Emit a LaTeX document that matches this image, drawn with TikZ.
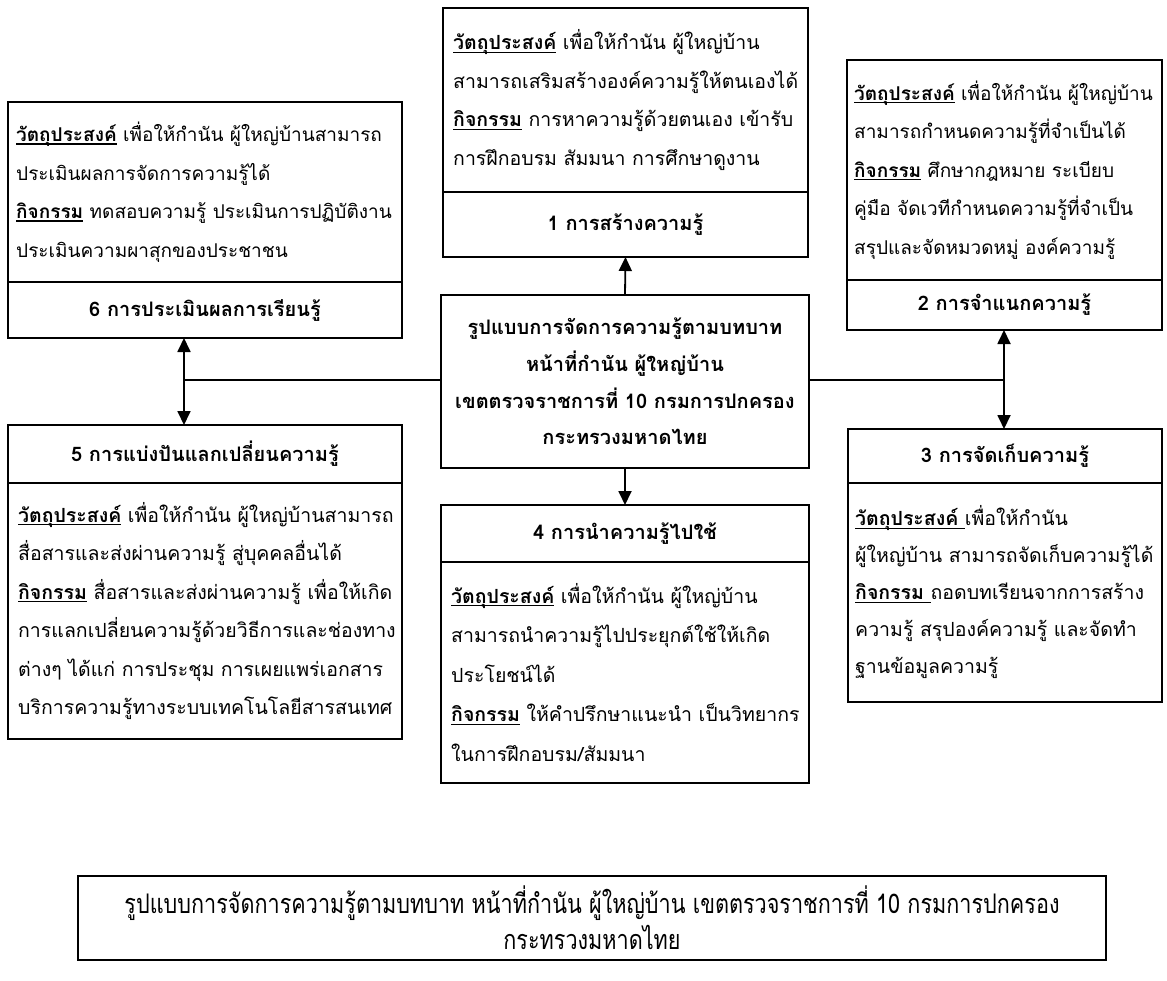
\documentclass[tikz,border=0pt]{standalone}
\usepackage{fontspec}
\usetikzlibrary{arrows.meta}
\setmainfont[Script=Thai]{Loma}
\newfontfamily\capfont[Script=Thai,FakeStretch=0.8]{Loma}
\newcommand{\tul}[1]{\setbox0\hbox{#1}\rlap{\rule[-3pt]{\wd0}{1.1pt}}\box0\relax}
\newcommand{\hd}[1]{\tul{\textbf{#1}}}
\tikzset{
  bx/.style={draw, line width=1.5pt, inner sep=0pt, outer sep=0pt, anchor=north west},
  bodytext/.style={inner sep=0pt, anchor=west, align=left, font=\fontsize{19.5}{38.5}\selectfont},
  titletext/.style={bx, font=\bfseries\fontsize{20}{22}\selectfont, align=center},
  centertext/.style={bx, font=\bfseries\fontsize{20}{36.7}\selectfont, align=center},
  link/.style={line width=1.5pt},
  arr/.style={line width=1.8pt, -{Triangle[length=14pt,width=13pt]}},
  darr/.style={line width=1.8pt, {Triangle[length=14pt,width=13pt]}-{Triangle[length=14pt,width=13pt]}},
}
\begin{document}
\begin{tikzpicture}[x=1pt,y=-1pt]
\useasboundingbox (0,0) rectangle (1167,980);
% Box 1
\node[bx, minimum width=365pt, minimum height=184pt] (b1) at (443,8) {};
\node[bodytext] (t1) at ([xshift=10pt]b1.west) {\hd{วัตถุประสงค์} เพื่อให้กำนัน ผู้ใหญ่บ้าน\\
สามารถเสริมสร้างองค์ความรู้ให้ตนเองได้\\
\hd{กิจกรรม} การหาความรู้ด้วยตนเอง เข้ารับ\\
การฝึกอบรม สัมมนา การศึกษาดูงาน};
\node[titletext, minimum width=365pt, minimum height=65pt] (h1) at (b1.south west) {1 การสร้างความรู้};
% Box 2
\node[bx, minimum width=315pt, minimum height=220pt] (b2) at (847,60) {};
\node[bodytext, font=\fontsize{19}{38.5}\selectfont] (t2) at ([xshift=7pt]b2.west) {\hd{วัตถุประสงค์} เพื่อให้กำนัน ผู้ใหญ่บ้าน\\
สามารถกำหนดความรู้ที่จำเป็นได้\\
\hd{กิจกรรม} ศึกษากฎหมาย ระเบียบ\\
คู่มือ จัดเวทีกำหนดความรู้ที่จำเป็น\\
สรุปและจัดหมวดหมู่ องค์ความรู้};
\node[titletext, minimum width=315pt, minimum height=50pt] (h2) at (b2.south west) {2 การจำแนกความรู้};
% Box 6
\node[bx, minimum width=394pt, minimum height=180pt] (b6) at (8,102) {};
\node[bodytext, font=\fontsize{19}{38.5}\selectfont] (t6) at ([xshift=8pt]b6.west) {\hd{วัตถุประสงค์} เพื่อให้กำนัน ผู้ใหญ่บ้านสามารถ\\
ประเมินผลการจัดการความรู้ได้\\
\hd{กิจกรรม} ทดสอบความรู้ ประเมินการปฏิบัติงาน\\
ประเมินความผาสุกของประชาชน};
\node[titletext, minimum width=394pt, minimum height=56pt] (h6) at (b6.south west) {6 การประเมินผลการเรียนรู้};
% Center
\node[centertext, minimum width=368pt, minimum height=173pt] (c) at (441,295) {รูปแบบการจัดการความรู้ตามบทบาท\\
หน้าที่กำนัน ผู้ใหญ่บ้าน\\
เขตตรวจราชการที่ 10 กรมการปกครอง\\
กระทรวงมหาดไทย};
% Box 5
\node[titletext, minimum width=394pt, minimum height=58pt] (h5) at (8,425) {5 การแบ่งปันแลกเปลี่ยนความรู้};
\node[bx, minimum width=394pt, minimum height=256pt] (b5) at (h5.south west) {};
\node[bodytext] (t5) at ([xshift=10pt]b5.west) {\hd{วัตถุประสงค์} เพื่อให้กำนัน ผู้ใหญ่บ้านสามารถ\\
สื่อสารและส่งผ่านความรู้ สู่บุคคลอื่นได้\\
\hd{กิจกรรม} สื่อสารและส่งผ่านความรู้ เพื่อให้เกิด\\
การแลกเปลี่ยนความรู้ด้วยวิธีการและช่องทาง\\
ต่างๆ ได้แก่ การประชุม การเผยแพร่เอกสาร\\
บริการความรู้ทางระบบเทคโนโลยีสารสนเทศ};
% Box 4
\node[titletext, minimum width=368pt, minimum height=57pt] (h4) at (441,505) {4 การนำความรู้ไปใช้};
\node[bx, minimum width=368pt, minimum height=221pt] (b4) at (h4.south west) {};
\node[bodytext, font=\fontsize{19.5}{39.5}\selectfont] (t4) at ([xshift=10pt]b4.west) {\hd{วัตถุประสงค์} เพื่อให้กำนัน ผู้ใหญ่บ้าน\\
สามารถนำความรู้ไปประยุกต์ใช้ให้เกิด\\
ประโยชน์ได้\\
\hd{กิจกรรม} ให้คำปรึกษาแนะนำ เป็นวิทยากร\\
ในการฝึกอบรม/สัมมนา};
% Box 3
\node[titletext, minimum width=314pt, minimum height=54pt] (h3) at (848,429) {3 การจัดเก็บความรู้};
\node[bx, minimum width=314pt, minimum height=219pt] (b3) at (h3.south west) {};
\node[bodytext, font=\fontsize{19.5}{37}\selectfont] (t3) at ([xshift=7pt]b3.west) {\hd{วัตถุประสงค์\ }เพื่อให้กำนัน\\
ผู้ใหญ่บ้าน สามารถจัดเก็บความรู้ได้\\
\hd{กิจกรรม\ }ถอดบทเรียนจากการสร้าง\\
ความรู้ สรุปองค์ความรู้ และจัดทำ\\
ฐานข้อมูลความรู้};
% Connectors
\coordinate (jl) at (184,380);
\coordinate (jr) at (1004,380);
\draw[arr] (c.north) -- (h1.south);
\draw[arr] (c.south) -- (h4.north);
\draw[link] (c.west |- jl) -- (jl);
\draw[link] (c.east |- jr) -- (jr);
\draw[darr] (jl |- h6.south) -- (jl |- h5.north);
\draw[darr] (jr |- h2.south) -- (jr |- h3.north);
% Caption
\node[bx, minimum width=1028pt, minimum height=84pt, font=\capfont\fontsize{27}{36}\selectfont, align=center] (cap) at (78,876) {รูปแบบการจัดการความรู้ตามบทบาท หน้าที่กำนัน ผู้ใหญ่บ้าน เขตตรวจราชการที่ 10 กรมการปกครอง\\
กระทรวงมหาดไทย};
\end{tikzpicture}
\end{document}
